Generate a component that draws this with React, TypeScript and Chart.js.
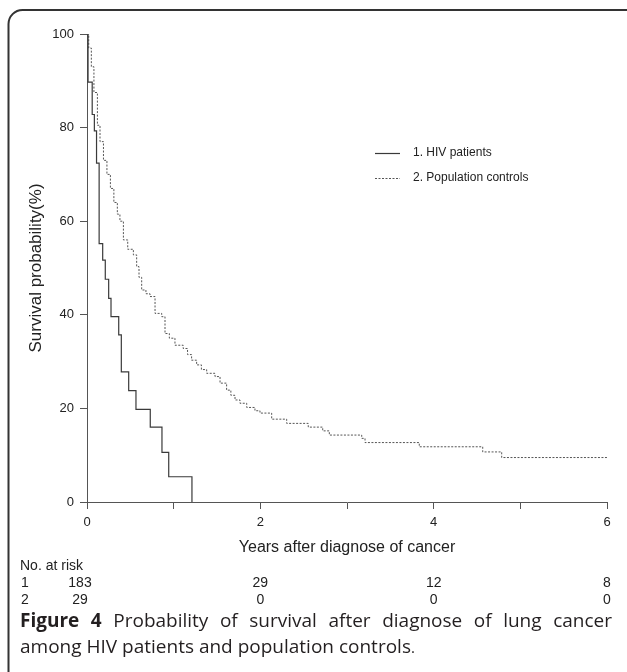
import React, { useEffect, useRef } from 'react';
import { Chart, registerables } from 'chart.js';

Chart.register(...registerables);

// Kaplan-Meier curves (time in years, survival %)
const hivTimes = [0, 0.012, 0.06, 0.085, 0.11, 0.14, 0.181, 0.211, 0.25, 0.277, 0.366, 0.396, 0.481, 0.565, 0.73, 0.865, 0.943, 1.211];
const hivSurvival = [100, 89.7, 82.8, 79.3, 72.4, 55.2, 51.7, 47.6, 43.5, 39.6, 35.7, 27.8, 23.8, 19.8, 16.0, 10.6, 5.4, 0];

const controlTimes = [0, 0.02, 0.05, 0.08, 0.12, 0.15, 0.19, 0.23, 0.27, 0.31, 0.35, 0.38, 0.42, 0.47, 0.535, 0.573, 0.6, 0.631, 0.68, 0.727, 0.785, 0.862, 0.9, 0.95, 1.015, 1.11, 1.16, 1.207, 1.265, 1.32, 1.381, 1.477, 1.535, 1.611, 1.66, 1.708, 1.765, 1.843, 1.938, 1.996, 2.131, 2.304, 2.553, 2.72, 2.796, 3.17, 3.208, 3.834, 4.566, 4.785, 6.0];
const controlSurvival = [100, 97, 93, 87.5, 80.5, 77, 73, 70, 67, 64, 61.5, 60, 56, 54, 52.8, 50.3, 48, 45.3, 44.5, 43.9, 40.3, 39.6, 36, 35, 33.5, 32.8, 31.5, 30.3, 29.3, 28.3, 27.5, 26.8, 25.4, 23.9, 22.8, 21.8, 21.1, 20.2, 19.5, 19.0, 17.7, 16.8, 16.0, 15.2, 14.3, 13.6, 12.7, 11.8, 10.7, 9.5, 9.5];

const legendLabels = ['1. HIV patients', '2. Population controls'];

const yTicks = [0, 20, 40, 60, 80, 100];
const xLabelYears = [0, 2, 4, 6];

const riskTitle = 'No. at risk';
const riskTimes = [0, 2, 4, 6];
const riskGroupLabels = ['1', '2'];
const riskGroup1 = [183, 29, 12, 8];
const riskGroup2 = [29, 0, 0, 0];

const xTitle = 'Years after diagnose of cancer';
const yTitle = 'Survival probability(%)';
const captionBold = 'Figure 4';
const captionLine1 = ' Probability of survival after diagnose of lung cancer';
const captionLine2 = 'among HIV patients and population controls';

const FONT = '"Liberation Sans", Arial, sans-serif';
const AXIS = '#555';
const TEXT = '#222';

const overlayPlugin = {
  id: 'overlay',
  beforeDraw(chart: any) {
    const ctx = chart.ctx;
    ctx.save();
    ctx.fillStyle = '#fff';
    ctx.fillRect(0, 0, chart.width, chart.height);
    // frame (top + left, rounded corner)
    ctx.strokeStyle = '#333';
    ctx.lineWidth = 2;
    const r = 14, x0 = 8.5, y0 = 10;
    ctx.beginPath();
    ctx.moveTo(x0, chart.height + 2);
    ctx.lineTo(x0, y0 + r);
    ctx.arcTo(x0, y0, x0 + r, y0, r);
    ctx.lineTo(chart.width + 2, y0);
    ctx.stroke();
    ctx.restore();
  },
  afterDraw(chart: any) {
    const ctx = chart.ctx;
    const xs = chart.scales.x;
    ctx.save();
    // legend
    const rows = [153, 178];
    ctx.font = `12px ${FONT}`;
    ctx.textBaseline = 'middle';
    ctx.textAlign = 'left';
    legendLabels.forEach((lab, i) => {
      const ds = chart.data.datasets[i];
      ctx.strokeStyle = ds.borderColor;
      ctx.lineWidth = ds.borderWidth;
      ctx.setLineDash(ds.borderDash || []);
      ctx.beginPath();
      ctx.moveTo(375, rows[i] + 0.5);
      ctx.lineTo(400, rows[i] + 0.5);
      ctx.stroke();
      ctx.setLineDash([]);
      ctx.fillStyle = TEXT;
      ctx.fillText(lab, 413, rows[i]);
    });
    // risk table
    ctx.font = `14px ${FONT}`;
    ctx.fillStyle = TEXT;
    ctx.textAlign = 'left';
    ctx.fillText(riskTitle, 20, 566);
    const rowY = [583, 600];
    [riskGroup1, riskGroup2].forEach((vals, r) => {
      ctx.textAlign = 'left';
      ctx.fillText(riskGroupLabels[r], 21, rowY[r]);
      ctx.textAlign = 'center';
      vals.forEach((v, k) => {
        const px = xs.getPixelForValue(riskTimes[k]) - (k === 0 ? 7 : 0);
        ctx.fillText(String(v), px, rowY[r]);
      });
    });
    ctx.restore();
  },
};

export default function App() {
  const ref = useRef<HTMLCanvasElement | null>(null);
  useEffect(() => {
    if (!ref.current) return;
    const chart = new Chart(ref.current, {
      type: 'line',
      data: {
        datasets: [
          {
            label: legendLabels[0],
            data: hivTimes.map((t, i) => ({ x: t, y: hivSurvival[i] })),
            borderColor: '#3a3a3a',
            borderWidth: 1.2,
            stepped: true,
            pointRadius: 0,
            fill: false,
          },
          {
            label: legendLabels[1],
            data: controlTimes.map((t, i) => ({ x: t, y: controlSurvival[i] })),
            borderColor: '#555',
            borderWidth: 1,
            borderDash: [2, 1.5],
            stepped: true,
            pointRadius: 0,
            fill: false,
          },
        ],
      },
      options: {
        responsive: false,
        animation: false,
        devicePixelRatio: 1,
        layout: { padding: { left: 26, right: 20, top: 34, bottom: 100 } },
        plugins: { legend: { display: false }, tooltip: { enabled: false } },
        scales: {
          x: {
            type: 'linear',
            min: 0,
            max: 6,
            afterFit: (s: any) => { s.height = 70; },
            grid: { drawOnChartArea: false, drawTicks: true, tickLength: 7, color: AXIS, lineWidth: 1 },
            border: { display: true, color: AXIS, width: 1 },
            ticks: {
              stepSize: 1,
              padding: 6,
              color: TEXT,
              font: { family: FONT, size: 13 },
              maxRotation: 0,
              callback: (v: any) => (xLabelYears.includes(Number(v)) ? String(v) : ''),
            },
            title: { display: true, text: xTitle, color: TEXT, font: { family: FONT, size: 16 }, padding: { top: 0, bottom: 14.4 } },
          },
          y: {
            min: 0,
            max: 100,
            afterFit: (s: any) => { s.width = 61; },
            afterBuildTicks: (s: any) => { s.ticks = yTicks.map((v) => ({ value: v })); },
            grid: { drawOnChartArea: false, drawTicks: true, tickLength: 7, color: AXIS, lineWidth: 1 },
            border: { display: true, color: AXIS, width: 1 },
            ticks: { padding: 6, color: TEXT, font: { family: FONT, size: 13 } },
            title: { display: true, text: yTitle, color: TEXT, font: { family: FONT, size: 17 }, padding: { top: 0, bottom: 0 } },
          },
        },
      },
      plugins: [overlayPlugin],
    });
    return () => chart.destroy();
  }, []);

  return (
    <div style={{ position: 'fixed', left: 0, top: 0, width: 627, height: 672, overflow: 'hidden', background: '#fff' }}>
      <canvas ref={ref} width={627} height={672} style={{ position: 'absolute', left: 0, top: 0, width: 627, height: 672 }} />
      <div
        style={{
          position: 'absolute',
          left: 20,
          top: 607,
          width: 592,
          fontFamily: '"Open Sans", "Noto Sans", sans-serif',
          fontSize: 19,
          lineHeight: '26px',
          color: '#231f20',
        }}
      >
        <div style={{ textAlign: 'justify', textAlignLast: 'justify', whiteSpace: 'nowrap' }}>
          <b>{captionBold}</b>
          {captionLine1}
        </div>
        <div>
          {captionLine2}
          <span style={{ fontSize: 15 }}>.</span>
        </div>
      </div>
    </div>
  );
}
